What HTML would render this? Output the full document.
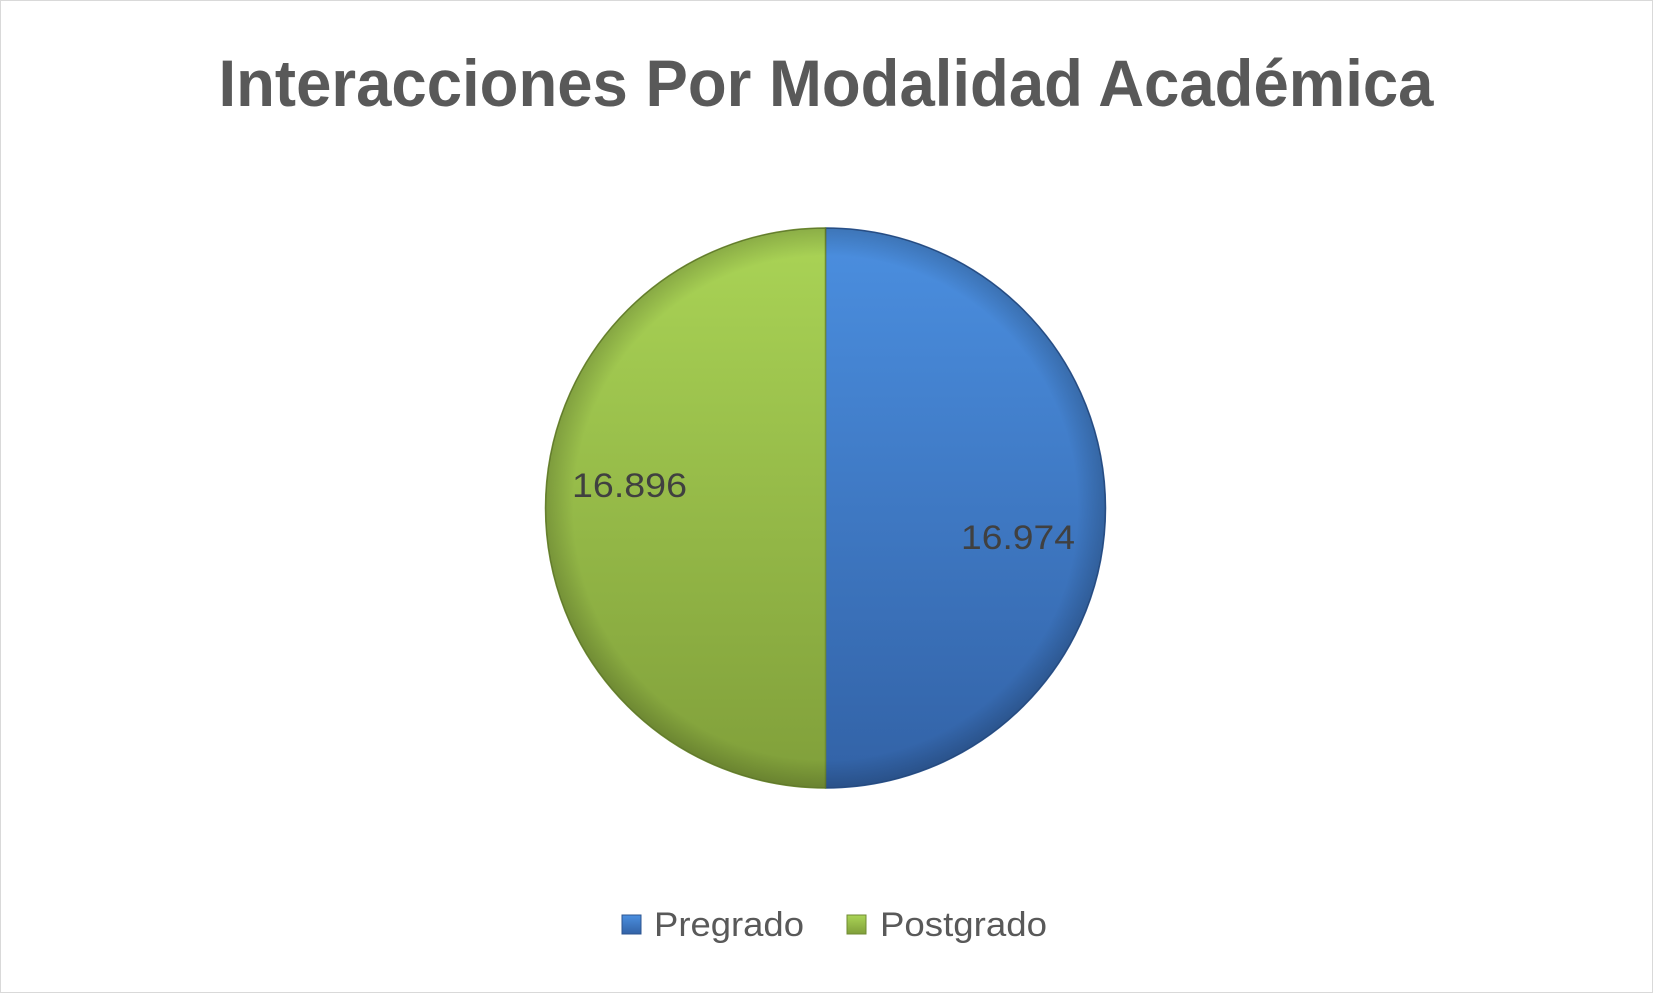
<!DOCTYPE html>
<html><head><meta charset="utf-8"><style>
html,body{margin:0;padding:0;background:#fff}
svg{display:block}
</style></head><body>
<svg width="1653" height="993" viewBox="0 0 1653 993" xmlns="http://www.w3.org/2000/svg">
<defs>
<linearGradient id="gb" x1="0" y1="0" x2="0" y2="1">
<stop offset="0" stop-color="#4b8fe0"/><stop offset="1" stop-color="#3262a6"/>
</linearGradient>
<linearGradient id="gg" x1="0" y1="0" x2="0" y2="1">
<stop offset="0" stop-color="#aad456"/><stop offset="1" stop-color="#809f3a"/>
</linearGradient>
<radialGradient id="sh" cx="0.5" cy="0.5" r="0.5">
<stop offset="0.9" stop-color="#000" stop-opacity="0"/><stop offset="1" stop-color="#000" stop-opacity="0.18"/>
</radialGradient>
</defs>
<rect x="0.5" y="0.5" width="1652" height="992" fill="#fff" stroke="#d9d9d9"/>
<text x="826" y="106" text-anchor="middle" font-family="Liberation Sans, sans-serif" font-weight="bold" font-size="66" fill="#595959" textLength="1215" lengthAdjust="spacingAndGlyphs">Interacciones Por Modalidad Académica</text>
<path d="M825.5,228 A280,280 0 0 1 825.5,788 Z" fill="url(#gb)" stroke="#2c5590" stroke-width="1.5"/>
<path d="M825.5,228 A280,280 0 0 0 825.5,788 Z" fill="url(#gg)" stroke="#6f8b33" stroke-width="1.5"/>
<circle cx="825.5" cy="508" r="280" fill="url(#sh)"/>
<text x="572" y="497" font-family="Liberation Sans, sans-serif" font-size="34" fill="#404040" textLength="115" lengthAdjust="spacingAndGlyphs">16.896</text>
<text x="961" y="549" font-family="Liberation Sans, sans-serif" font-size="34" fill="#404040" textLength="114" lengthAdjust="spacingAndGlyphs">16.974</text>
<rect x="622" y="915" width="19" height="19" fill="url(#gb)" stroke="#2c5590"/>
<text x="654" y="936" font-family="Liberation Sans, sans-serif" font-size="34" fill="#595959" textLength="150" lengthAdjust="spacingAndGlyphs">Pregrado</text>
<rect x="847" y="915" width="19" height="19" fill="url(#gg)" stroke="#6f8b33"/>
<text x="880" y="936" font-family="Liberation Sans, sans-serif" font-size="34" fill="#595959" textLength="167" lengthAdjust="spacingAndGlyphs">Postgrado</text>
</svg>
</body></html>
